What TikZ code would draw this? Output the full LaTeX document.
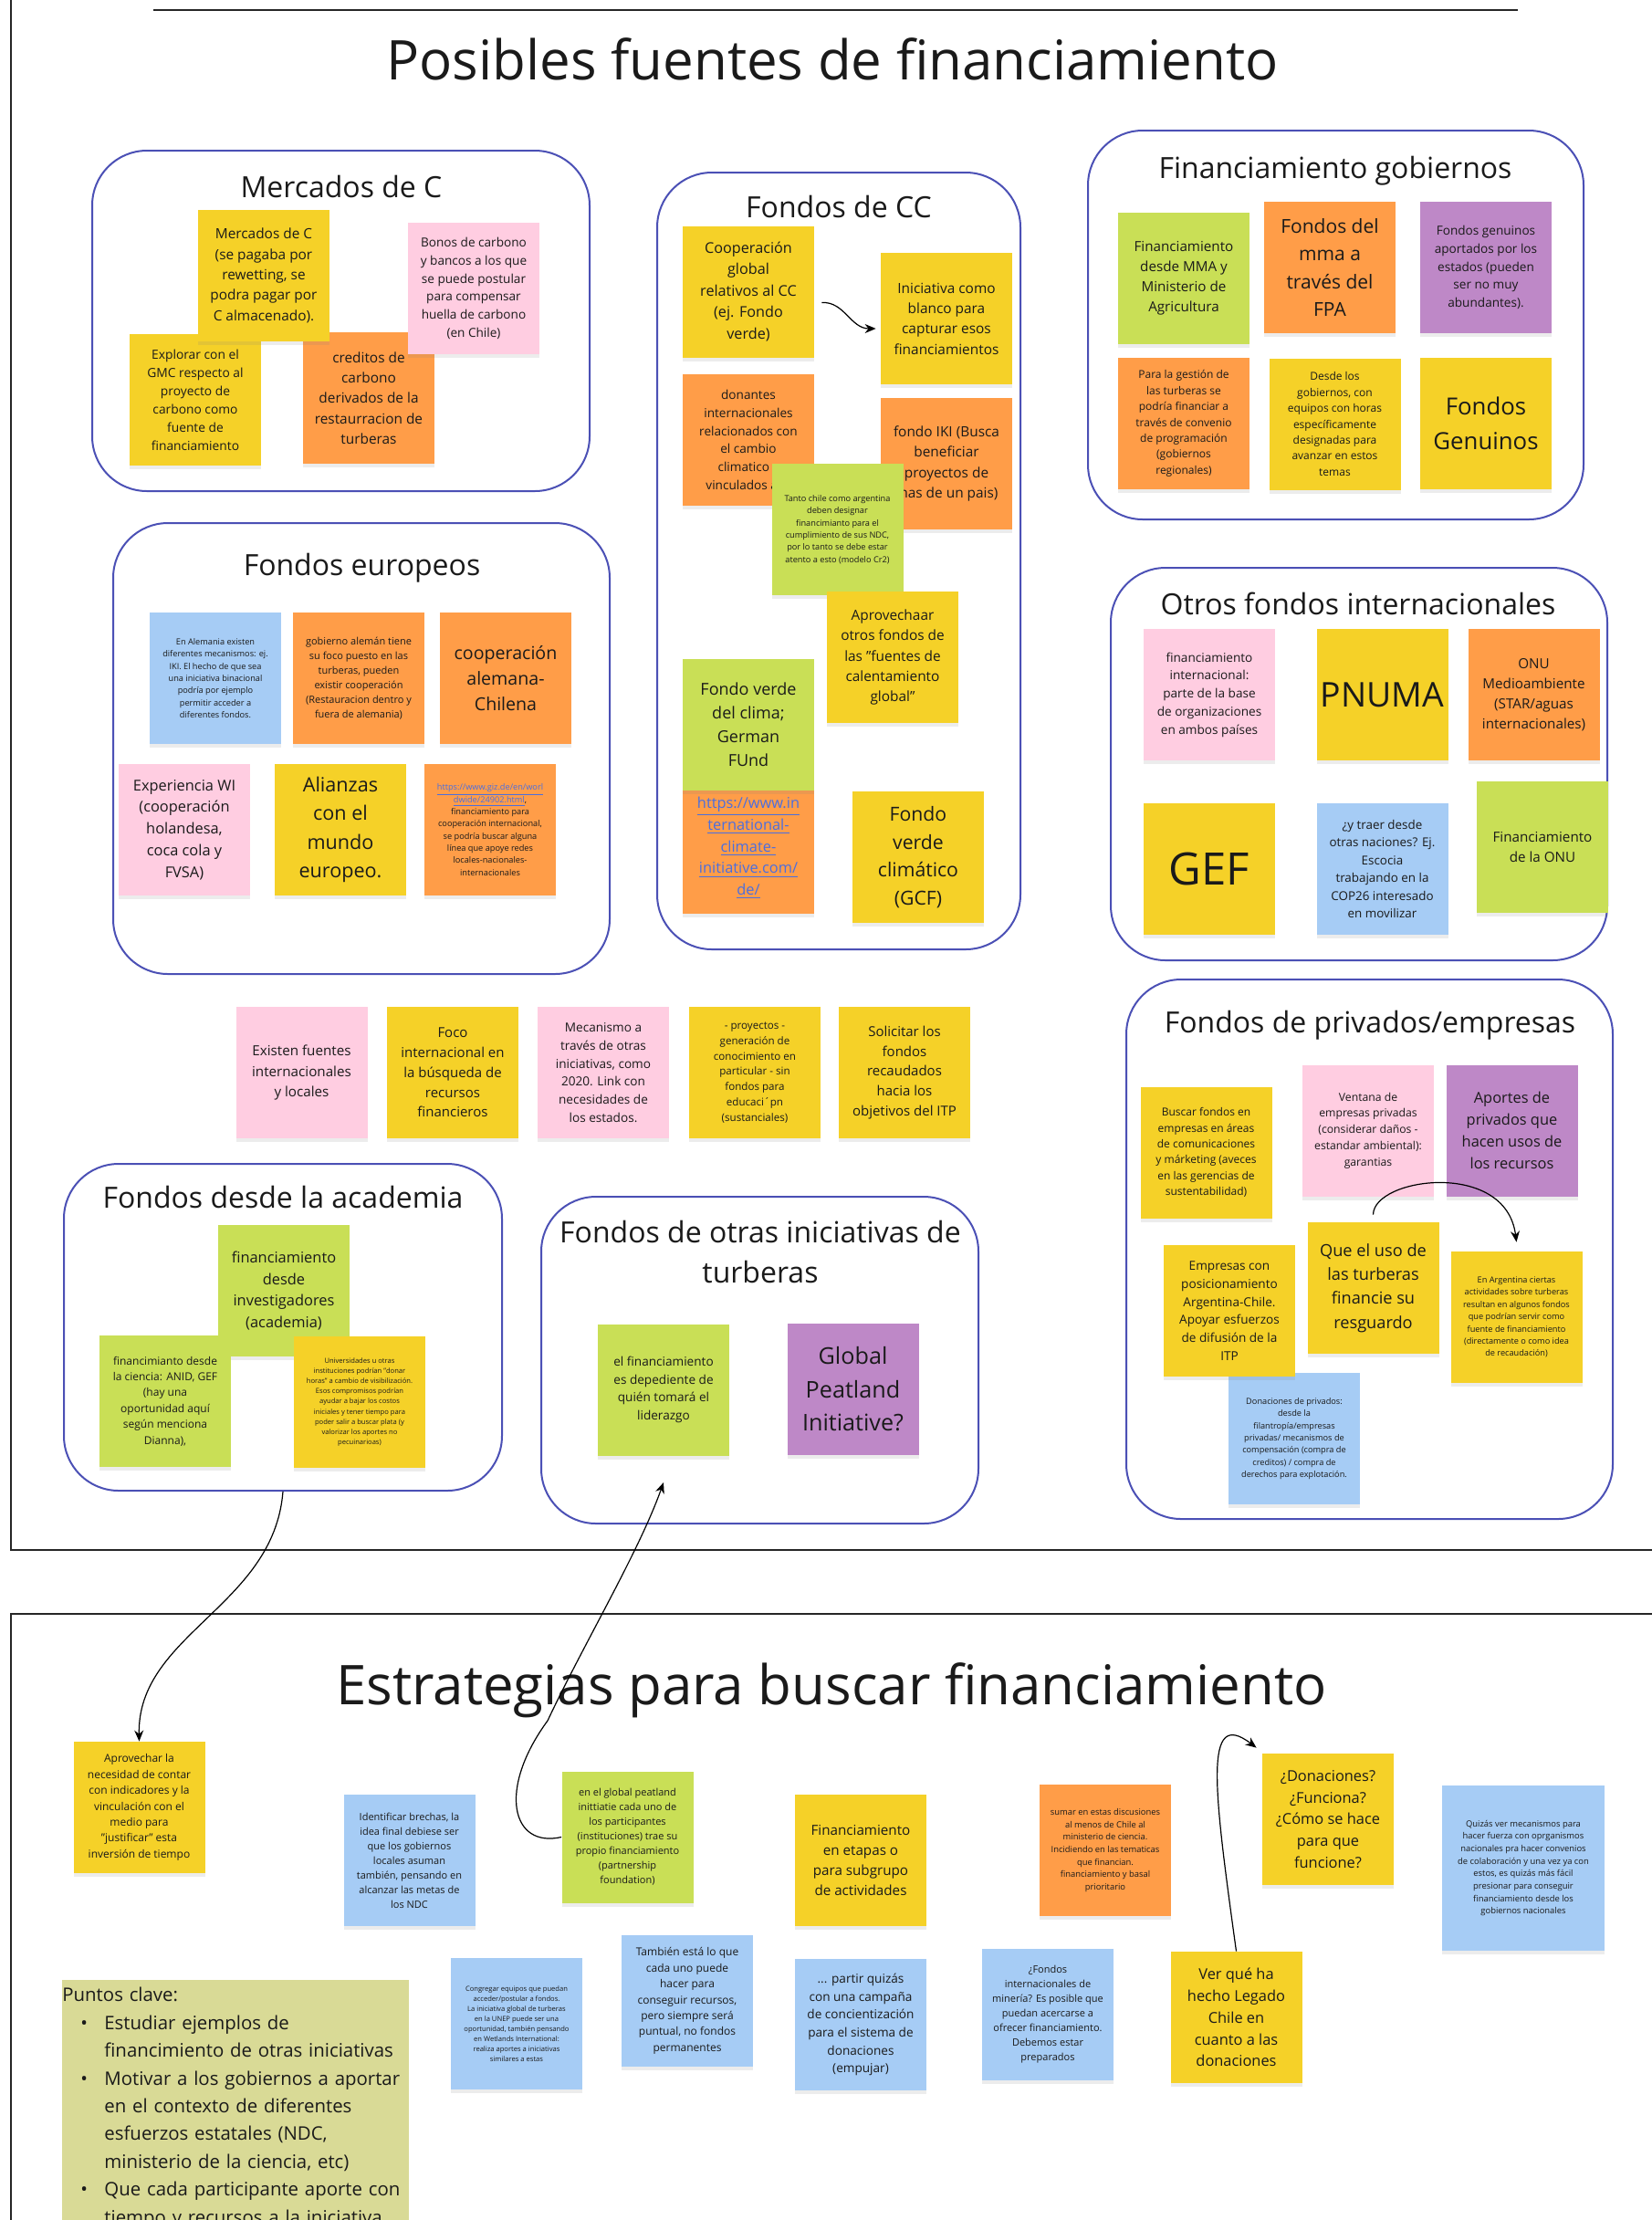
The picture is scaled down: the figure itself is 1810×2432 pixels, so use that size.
\documentclass[tikz,border=0pt]{standalone}
\usepackage{fontspec}
\setmainfont{Open Sans}
\usetikzlibrary{shadows,arrows.meta}

\definecolor{amarillo}{HTML}{F5D128}
\definecolor{naranja}{HTML}{FF9D48}
\definecolor{rosa}{HTML}{FFCDE1}
\definecolor{verde}{HTML}{C9DF56}
\definecolor{azul}{HTML}{A6CCF5}
\definecolor{morado}{HTML}{BE88C7}
\definecolor{caqui}{HTML}{D9DA96}
\definecolor{borde}{HTML}{4B50B5}
\definecolor{tinta}{HTML}{1A1A1A}
\definecolor{enlace}{HTML}{4A6EE0}

\tikzset{
  fs/.style={font=\fontsize{#1}{\fpeval{1.45*#1}}\selectfont},
  nota/.style={minimum width=72pt, minimum height=72pt, inner sep=0pt,
    align=center, text=tinta,
    drop shadow={shadow xshift=0pt, shadow yshift=-2pt, opacity=0.15}},
  am/.style={nota, fill=amarillo},
  na/.style={nota, fill=naranja},
  ro/.style={nota, fill=rosa},
  ve/.style={nota, fill=verde},
  az/.style={nota, fill=azul},
  mo/.style={nota, fill=morado},
  marco/.style={draw=borde, line width=1pt, rounded corners=30pt},
  titulo/.style={anchor=base, text=tinta, font=\fontsize{16}{22}\selectfont},
  titgrande/.style={anchor=base, text=tinta, font=\fontsize{30}{36}\selectfont},
  linea/.style={draw=black!85, line width=0.8pt},
  flecha/.style={-{Stealth[length=6pt,width=5pt]}, line width=0.6pt},
}

\begin{document}
\begin{tikzpicture}[x=0.5pt,y=-0.5pt]
  \useasboundingbox (0,0) rectangle (1810,2432);

  %% marcos de las dos zonas
  \draw[linea] (168,11) -- (1663,11);
  \draw[linea] (12,0) -- (12,1698) -- (1810,1698);
  \draw[linea] (1810,1768) -- (12,1768) -- (12,2432);

  \node[titgrande] (tposibles) at (912,87) {Posibles fuentes de financiamiento};

  %% Mercados de C
  \node[marco, minimum width=272.5pt, minimum height=186.5pt] (mercados) at (373.5,351.5) {};
  \node[titulo] (tmercados) at (374,216) {Mercados de C};
  \node[am, fs=6.9] (explorar) at (214,438) {Explorar con el\\GMC respecto al\\proyecto de\\carbono como\\fuente de\\financiamiento};
  \node[na, fs=7.7] (creditos) at (404,436) {creditos de\\carbono\\derivados de la\\restaurracion de\\turberas};
  \node[am, fs=7.7] (merc) at (289,302) {Mercados de C\\(se pagaba por\\rewetting, se\\podra pagar por\\C almacenado).};
  \node[ro, fs=6.8] (bonos) at (519,316) {Bonos de carbono\\y bancos a los que\\se puede postular\\para compensar\\huella de carbono\\(en Chile)};

  %% Fondos europeos
  \node[marco, minimum width=272pt, minimum height=247pt] (europeos) at (396,820) {};
  \node[titulo] (teuropeos) at (396.5,630) {Fondos europeos};
  \node[az, fs=4.6] (alemania) at (236,743) {En Alemania existen\\diferentes mecanismos: ej.\\IKI. El hecho de que sea\\una iniciativa binacional\\podría por ejemplo\\permitir acceder a\\diferentes fondos.};
  \node[na, fs=5.5] (gobaleman) at (393,743) {gobierno alemán tiene\\su foco puesto en las\\turberas, pueden\\existir cooperación\\(Restauracion dentro y\\fuera de alemania)};
  \node[na, fs=9.8] (coopalem) at (554,743) {cooperación\\alemana-\\Chilena};
  \node[ro, fs=8.2] (expwi) at (202,909) {Experiencia WI\\(cooperación\\holandesa,\\coca cola y\\FVSA)};
  \node[am, fs=10.8] (alianzas) at (373,909) {Alianzas\\con el\\mundo\\europeo.};
  \node[na, fs=4.6] (giz) at (537,909) {\textcolor{enlace}{\underline{https://www.giz.de/en/worl}}\\\textcolor{enlace}{\underline{dwide/24902.html}},\\financiamiento para\\cooperación internacional,\\se podría buscar alguna\\línea que apoye redes\\locales-nacionales-\\internacionales};

  %% Fondos de CC
  \node[marco, minimum width=199pt, minimum height=425.5pt] (fondoscc) at (919,614.5) {};
  \node[titulo] (tfondoscc) at (919,238) {Fondos de CC};
  \node[am, fs=8.1] (coop) at (820,319.5) {Cooperación\\global\\relativos al CC\\(ej. Fondo\\verde)};
  \node[am, fs=7.7] (inic) at (1037,349) {Iniciativa como\\blanco para\\capturar esos\\financiamientos};
  \node[na, fs=6.8] (donantes) at (820,482) {donantes\\internacionales\\relacionados con\\el cambio\\climatico\phantom{ y}\\vinculados a\phantom{ la}};
  \node[na, fs=7.7] (iki) at (1037,508) {fondo IKI (Busca\\beneficiar\\proyectos de\\mas de un pais)};
  \node[ve, fs=4.6] (tanto) at (917.5,580) {Tanto chile como argentina\\deben designar\\financimianto para el\\cumplimiento de sus NDC,\\por lo tanto se debe estar\\atento a esto (modelo Cr2)};
  \node[am, fs=7.7] (aprovechaar) at (978,720) {Aprovechaar\\otros fondos de\\las "fuentes de\\calentamiento\\global"};
  \node[na, fs=8.2, text=enlace] (urlici) at (820,929) {\underline{https://www.in}\\\underline{ternational-}\\\underline{climate-}\\\underline{initiative.com/}\\\underline{de/}};
  \node[ve, fs=9] (fvclima) at (820,794) {Fondo verde\\del clima;\\German\\FUnd};
  \node[am, fs=10.6] (gcf) at (1006,939) {Fondo\\verde\\climático\\(GCF)};

  %% Financiamiento gobiernos
  \node[marco, minimum width=271.5pt, minimum height=213pt] (gobiernos) at (1463.5,356) {};
  \node[titulo] (tgobiernos) at (1463,195) {Financiamiento gobiernos};
  \node[ve, fs=7.6] (finmma) at (1297,305) {Financiamiento\\desde MMA y\\Ministerio de\\Agricultura};
  \node[na, fs=10.5] (fpa) at (1457,293) {Fondos del\\mma a\\través del\\FPA};
  \node[mo, fs=6.8] (genuinos) at (1628,293) {Fondos genuinos\\aportados por los\\estados (pueden\\ser no muy\\abundantes).};
  \node[na, fs=6] (gestion) at (1297,464) {Para la gestión de\\las turberas se\\podría financiar a\\través de convenio\\de programación\\(gobiernos\\regionales)};
  \node[am, fs=6] (desde) at (1462.5,464.5) {Desde los\\gobiernos, con\\equipos con horas\\específicamente\\designadas para\\avanzar en estos\\temas};
  \node[am, fs=12.9] (fgenuinos) at (1628,464) {Fondos\\Genuinos};

  %% Otros fondos internacionales
  \node[marco, minimum width=272pt, minimum height=215pt] (otros) at (1489,837) {};
  \node[titulo] (totros) at (1488,673) {Otros fondos internacionales};
  \node[ro, fs=6.8] (finintl) at (1325,761) {financiamiento\\internacional:\\parte de la base\\de organizaciones\\en ambos países};
  \node[am, fs=18.7] (pnuma) at (1514.5,761) {PNUMA};
  \node[na, fs=7.6] (onu) at (1680.5,761) {ONU\\Medioambiente\\(STAR/aguas\\internacionales)};
  \node[am, fs=24.5] (gef) at (1325,952) {GEF};
  \node[az, fs=6.7] (traer) at (1514.5,952) {¿y traer desde\\otras naciones? Ej.\\Escocia\\trabajando en la\\COP26 interesado\\en movilizar};
  \node[ve, fs=7.6] (finonu) at (1690,928) {Financiamiento\\de la ONU};

  %% notas sueltas
  \node[ro, fs=7.6] (existen) at (330.5,1175) {Existen fuentes\\internacionales\\y locales};
  \node[am, fs=7.5] (foco) at (496,1175) {Foco\\internacional en\\la búsqueda de\\recursos\\financieros};
  \node[ro, fs=6.8] (mecanismo) at (661,1175) {Mecanismo a\\través de otras\\iniciativas, como\\2020. Link con\\necesidades de\\los estados.};
  \node[am, fs=5.8] (proyectos) at (827,1175) {- proyectos -\\generación de\\conocimiento en\\particular - sin\\fondos para\\educaci´pn\\(sustanciales)};
  \node[am, fs=7.5] (solicitar) at (991,1175) {Solicitar los\\fondos\\recaudados\\hacia los\\objetivos del ITP};

  %% Fondos de privados/empresas
  \node[marco, minimum width=266.5pt, minimum height=295.5pt] (privados) at (1500.5,1368.5) {};
  \node[titulo] (tprivados) at (1501,1131) {Fondos de privados/empresas};
  \node[am, fs=6] (buscar) at (1321.5,1262.5) {Buscar fondos en\\empresas en áreas\\de comunicaciones\\y márketing (aveces\\en las gerencias de\\sustentabilidad)};
  \node[ro, fs=6.1] (ventana) at (1499,1238.5) {Ventana de\\empresas privadas\\(considerar daños -\\estandar ambiental):\\garantias};
  \node[mo, fs=8.2] (aportes) at (1656.5,1238.5) {Aportes de\\privados que\\hacen usos de\\los recursos};
  \node[az, fs=4.6] (donpriv) at (1418,1576) {Donaciones de privados:\\desde la\\filantropía/empresas\\privadas/ mecanismos de\\compensación (compra de\\creditos) / compra de\\derechos para explotación.};
  \node[am, fs=6.8] (empresas) at (1347,1436) {Empresas con\\posicionamiento\\Argentina-Chile.\\Apoyar esfuerzos\\de difusión de la\\ITP};
  \node[am, fs=9.1] (queuso) at (1504.5,1411) {Que el uso de\\las turberas\\financie su\\resguardo};
  \node[am, fs=4.6] (enarg) at (1661.5,1443) {En Argentina ciertas\\actividades sobre turberas\\resultan en algunos fondos\\que podrían servir como\\fuente de financiamiento\\(directamente o como idea\\de recaudación)};

  %% Fondos desde la academia
  \node[marco, minimum width=240pt, minimum height=179pt] (academia) at (310,1454) {};
  \node[titulo] (tacademia) at (310,1323) {Fondos desde la academia};
  \node[ve, fs=8.2] (fininv) at (311,1414) {financiamiento\\desde\\investigadores\\(academia)};
  \node[ve, fs=6] (finciencia) at (181,1535) {financimianto desde\\la ciencia: ANID, GEF\\(hay una\\oportunidad aquí\\según menciona\\Dianna),};
  \node[am, fs=3.8] (univ) at (394,1536) {Universidades u otras\\instituciones podrían "donar\\horas" a cambio de visibilización.\\Esos compromisos podrían\\ayudar a bajar los costos\\iniciales y tener tiempo para\\poder salir a buscar plata (y\\valorizar los aportes no\\pecuinarioas)};

  %% Fondos de otras iniciativas de turberas
  \node[marco, minimum width=239.5pt, minimum height=179pt] (turberas) at (832.5,1490) {};
  \node[text=tinta, align=center, font=\fontsize{16}{22}\selectfont] (tturberas) at (833,1371) {Fondos de otras iniciativas de\\turberas};
  \node[ve, fs=6.8] (financ) at (727,1522.5) {el financiamiento\\es depediente de\\quién tomará el\\liderazgo};
  \node[mo, fs=12.6] (gpi) at (934.5,1522) {Global\\Peatland\\Initiative?};

  %% Estrategias para buscar financiamiento
  \node[titgrande] (testrategias) at (911,1867) {Estrategias para buscar financiamiento};
  \node[am, fs=6] (aprov) at (152.5,1980) {Aprovechar la\\necesidad de contar\\con indicadores y la\\vinculación con el\\medio para\\"justificar" esta\\inversión de tiempo};
  \node[az, fs=5.5] (identificar) at (448.5,2038) {Identificar brechas, la\\idea final debiese ser\\que los gobiernos\\locales asuman\\también, pensando en\\alcanzar las metas de\\los NDC};
  \node[ve, fs=5.5] (gpeat) at (687.5,2012.5) {en el global peatland\\inittiatie cada uno de\\los participantes\\(instituciones) trae su\\propio financiamiento\\(partnership\\foundation)};
  \node[am, fs=7.6] (etapas) at (943,2038) {Financiamiento\\en etapas o\\para subgrupo\\de actividades};
  \node[na, fs=4.7] (sumar) at (1211,2027) {sumar en estas discusiones\\al menos de Chile al\\ministerio de ciencia.\\Incidiendo en las tematicas\\que financian.\\financiamiento y basal\\prioritario};
  \node[am, fs=8.2] (donac) at (1455,1993) {¿Donaciones?\\¿Funciona?\\¿Cómo se hace\\para que\\funcione?};
  \node[az, fs=4.7, minimum width=89pt, minimum height=90.5pt] (quizas) at (1669,2046.5) {Quizás ver mecanismos para\\hacer fuerza con oprganismos\\nacionales pra hacer convenios\\de colaboración y una vez ya con\\estos, es quizás más fácil\\presionar para conseguir\\financiamiento desde los\\gobiernos nacionales};
  \node[az, fs=3.8] (congregar) at (566,2217) {Congregar equipos que puedan\\acceder/postular a fondos.\\La iniciativa global de turberas\\en la UNEP puede ser una\\oportunidad, también pensando\\en Wetlands International:\\realiza aportes a iniciativas\\similares a estas};
  \node[az, fs=6] (tambien) at (753,2192) {También está lo que\\cada uno puede\\hacer para\\conseguir recursos,\\pero siempre será\\puntual, no fondos\\permanentes};
  \node[az, fs=6.8] (partir) at (943,2218) {... partir quizás\\con una campaña\\de concientización\\para el sistema de\\donaciones\\(empujar)};
  \node[az, fs=5.5] (fondosmin) at (1148,2206.5) {¿Fondos\\internacionales de\\minería? Es posible que\\puedan acercarse a\\ofrecer financiamiento.\\Debemos estar\\preparados};
  \node[am, fs=8.2] (verque) at (1354.5,2210) {Ver qué ha\\hecho Legado\\Chile en\\cuanto a las\\donaciones};

  \node[fill=caqui, anchor=north west, inner xsep=0pt, inner ysep=4pt,
    text width=190pt, align=left, text=tinta,
    font=\fontsize{10.2}{15.2}\selectfont] (clave) at (68,2169)
    {Puntos clave:\\
    \hspace*{10pt}\makebox[13pt][l]{\textbullet}Estudiar ejemplos de\\
    \hspace*{23pt}financimiento de otras iniciativas\\
    \hspace*{10pt}\makebox[13pt][l]{\textbullet}Motivar a los gobiernos a aportar\\
    \hspace*{23pt}en el contexto de diferentes\\
    \hspace*{23pt}esfuerzos estatales (NDC,\\
    \hspace*{23pt}ministerio de la ciencia, etc)\\
    \hspace*{10pt}\makebox[13pt][l]{\textbullet}Que cada participante aporte con\\
    \hspace*{23pt}tiempo y recursos a la iniciativa};

  %% flechas
  \coordinate (puntaturb) at (727,1624);
  \draw[flecha] ([shift={(4pt,-6pt)}]coop.east) .. controls (925,330) and (932,360) .. ([shift={(-2.5pt,-5.5pt)}]inic.west);
  \draw[flecha] ([yshift=4pt]queuso.north) .. controls (1505,1290) and (1650,1270) .. ([yshift=5pt]enarg.north);
  \draw[flecha] (academia.south) .. controls (300,1760) and (150,1790) .. (aprov.north);
  \draw[flecha] (gpeat.west) .. controls (560,2025) and (545,1960) .. (600,1885) .. controls (640,1800) and (700,1700) .. (puntaturb);
  \draw[flecha] (verque.north) .. controls (1330,1960) and (1318,1870) .. ([shift={(-3pt,3pt)}]donac.north west);
\end{tikzpicture}
\end{document}
